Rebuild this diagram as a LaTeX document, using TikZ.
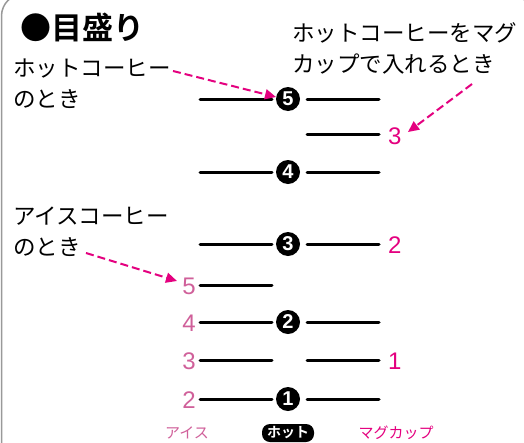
\documentclass[tikz,border=0pt]{standalone}
\usepackage{fontspec}
\newfontfamily\jp{Noto Sans CJK JP}
\newfontfamily\jpb{Noto Sans CJK JP Bold}
\newfontfamily\num{Liberation Sans}
\usetikzlibrary{arrows.meta}
\definecolor{mag}{HTML}{E4007F}
\definecolor{pinkl}{HTML}{D0609A}
\definecolor{framegray}{HTML}{999999}
\tikzset{
  scaleline/.style={line width=3pt, line cap=round, black},
  hotnum/.style={circle, fill=black, text=white, inner sep=0pt, minimum size=24pt, font=\num\bfseries\fontsize{20}{20}\selectfont},
  lnum/.style={text=pinkl, inner sep=0pt, font=\num\fontsize{24}{24}\selectfont},
  rnum/.style={text=mag, inner sep=0pt, font=\num\fontsize{24}{24}\selectfont},
  note/.style={inner sep=0pt, align=left, font=\jp\fontsize{22.5}{31}\selectfont},
  callout/.style={mag, line width=2pt, dash pattern=on 8pt off 4pt, -{Triangle[length=11pt,width=10pt]}},
}
\begin{document}
\begin{tikzpicture}[x=1pt,y=-1pt]
\useasboundingbox (0,0) rectangle (524,442);
\fill[white] (0,0) rectangle (524,442);
\draw[framegray, line width=1.5pt, rounded corners=22pt] (1.5,450) -- (1.5,-6) -- (531.5,-6) -- (531.5,450);

% title
\node[anchor=west, inner sep=0pt, font=\jpb\fontsize{31}{31}\selectfont] (title) at (20,27) {●目盛り};

% notes
\node[note, anchor=north west] (hotnote) at (13,59) {ホットコーヒー\\のとき};
\node[note, anchor=north west] (mugnote) at (292,22) {ホットコーヒーをマグ\\カップで入れるとき};
\node[note, anchor=north west] (icenote) at (13,207) {アイスコーヒー\\のとき};

% hot circles
\node[hotnum] (h5) at (288,99) {5};
\node[hotnum] (h4) at (288,172) {4};
\node[hotnum] (h3) at (288,244) {3};
\node[hotnum] (h2) at (288,322) {2};
\node[hotnum] (h1) at (288,399) {1};

% scale line endpoints
\foreach \n/\y in {a5/99,a4/172,a3/244,ai5/285,a2/322,ai3/360,a1/399}{
  \coordinate (L\n) at (200,\y);
  \coordinate (M\n) at (272,\y);
}
\foreach \n/\y in {a5/99,m3/134,a4/172,a3/244,a2/322,m1/360,a1/399}{
  \coordinate (R\n) at (307,\y);
  \coordinate (S\n) at (379,\y);
}
\foreach \n in {a5,a4,a3,ai5,a2,ai3,a1}{\draw[scaleline] (L\n) -- (M\n);}
\foreach \n in {a5,m3,a4,a3,a2,m1,a1}{\draw[scaleline] (R\n) -- (S\n);}

% left numbers (ice)
\node[lnum, anchor=east] (i5) at (196,286) {5};
\node[lnum, anchor=east] (i4) at (196,323) {4};
\node[lnum, anchor=east] (i3) at (196,361) {3};
\node[lnum, anchor=east] (i2) at (196,400) {2};

% right numbers (mug)
\node[rnum, anchor=west] (m3) at (388,136) {3};
\node[rnum, anchor=west] (m2) at (388,245) {2};
\node[rnum, anchor=west] (m1) at (388,361) {1};

% bottom labels
\node[inner sep=0pt, text=pinkl, font=\jp\fontsize{15}{15}\selectfont] (ice) at (187,433) {アイス};
\node[fill=black, text=white, rounded corners=8pt, inner xsep=5pt, inner ysep=1pt, minimum height=18pt, font=\jpb\fontsize{14}{14}\selectfont] (hot) at (288,433) {ホット};
\node[inner sep=0pt, text=mag, font=\jp\fontsize{15}{15}\selectfont] (mug) at (396,433) {マグカップ};

% callouts
\coordinate (c1s) at (173,71);
\coordinate (c1e) at (276,97);
\draw[callout] (c1s) -- (c1e);
\coordinate (c2s) at (472,84);
\coordinate (c2e) at (408,132);
\draw[callout] (c2s) -- (c2e);
\coordinate (c3s) at (86,253);
\coordinate (c3e) at (177,281);
\draw[callout] (c3s) -- (c3e);
\end{tikzpicture}
\end{document}
